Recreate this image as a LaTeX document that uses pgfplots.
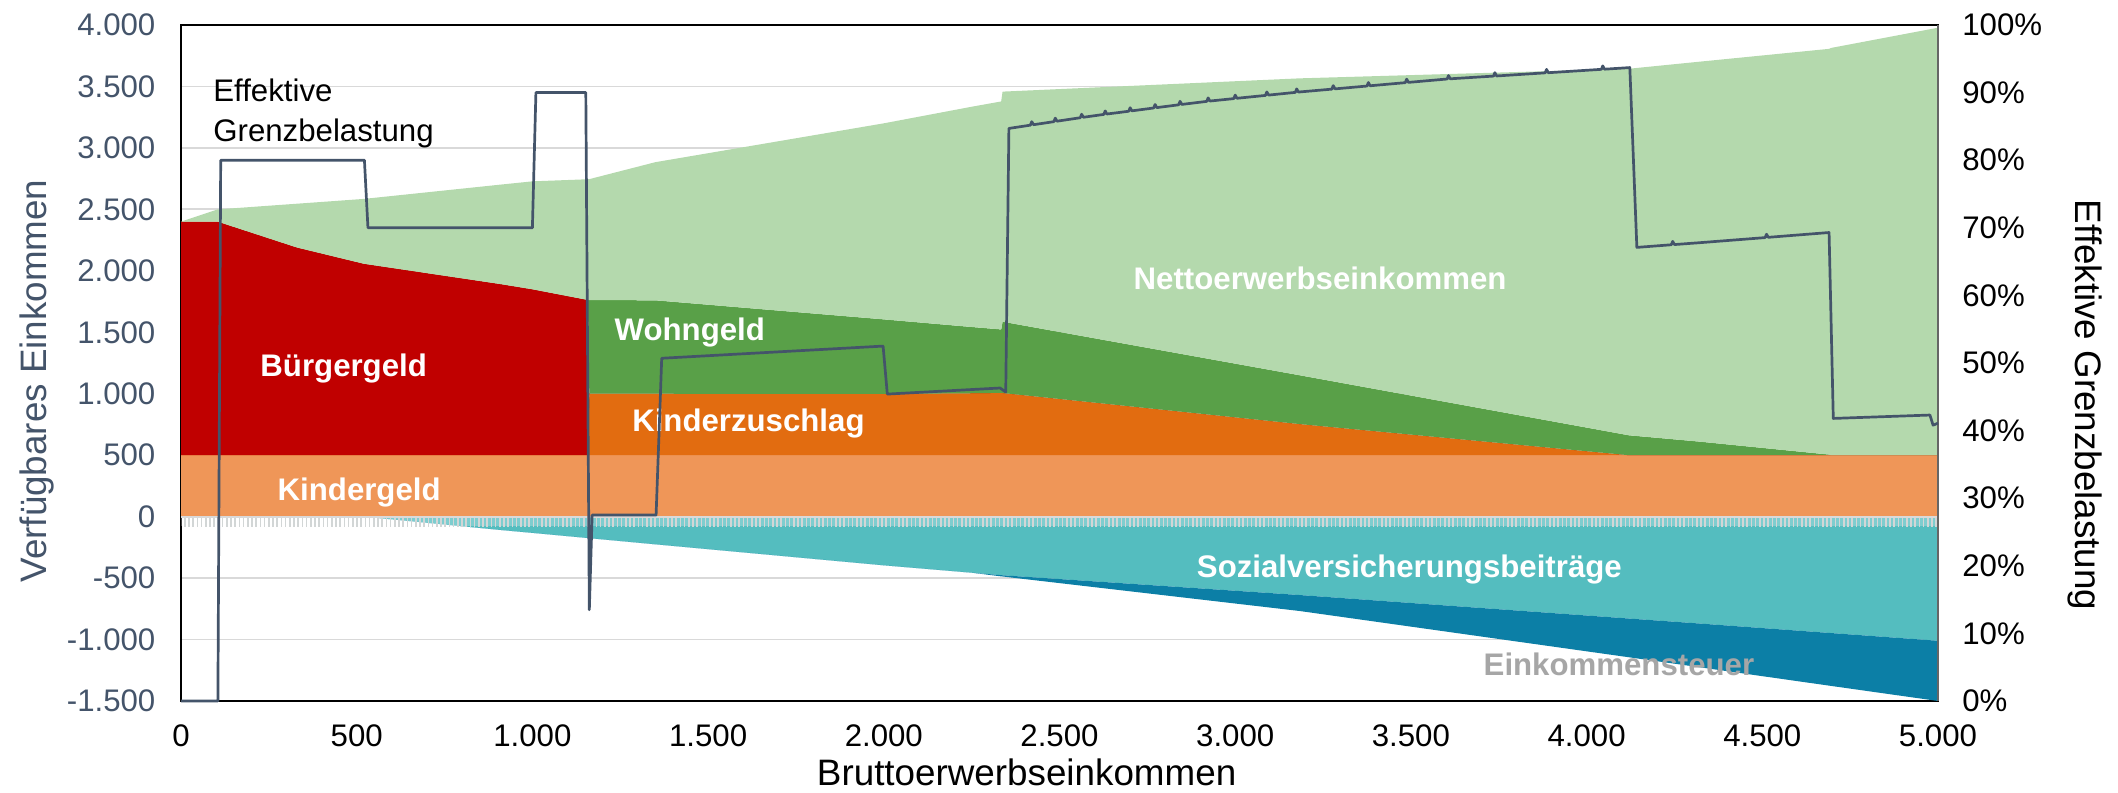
\documentclass[border=0pt]{standalone}
\usepackage{fontspec}
\setmainfont{Liberation Sans}
\usepackage{pgfplots}
\pgfplotsset{compat=1.18}
\usepackage{pgfplotstable}
\usepgfplotslibrary{fillbetween}
\usetikzlibrary{patterns.meta}

\definecolor{kgeld}{HTML}{EF9658}
\definecolor{kizu}{HTML}{E26C10}
\definecolor{buerger}{HTML}{C00000}
\definecolor{wohn}{HTML}{59A048}
\definecolor{netto}{HTML}{B4D9AD}
\definecolor{sv}{HTML}{54BDBF}
\definecolor{est}{HTML}{0C7FA6}
\definecolor{slate}{HTML}{44546A}
\definecolor{gridgray}{HTML}{D9D9D9}
\definecolor{estlab}{HTML}{A6A6A6}
\definecolor{bandgray}{HTML}{D2D6D6}

\newcommand{\smallf}{\fontsize{15.6}{18}\selectfont}
\newcommand{\axlab}{\fontsize{18.4}{22}\selectfont}

% cumulative boundaries of the stacked areas
\pgfplotstableread{
X c1 c2 c3 c4 c5 s1 s2
0 500 500 2400 2400 2400 0 0
105 500 500 2400 2400 2500 0 0
330 500 500 2190 2190 2546 0 0
520 500 500 2058 2058 2585 0 0
908 500 500 1893 1893 2701 -108 -108
1000 500 500 1850 1850 2728 -132 -132
1158 500 500 1763 1763 2745 -174 -174
1162 500 1000 1000 1762 2746 -175 -175
1350 500 1000 1000 1760 2884 -225 -225
2000 500 998 998 1605 3200 -396 -396
2250 500 1004 1004 1543 3335 -456 -456
2334 500 1007 1007 1523 3378 -476 -486
2338 500 1006 1006 1586 3458 -477 -487
3184 500 753 753 1150 3566 -638 -768
4120 500 500 500 662 3644 -829 -1144
4323 500 500 500 610 3702 -870 -1226
4690 500 500 500 505 3806 -946 -1375
4695 500 500 500 500 3813 -947 -1377
5000 500 500 500 500 3978 -1010 -1500
}\areas

% effektive Grenzbelastung in %
\pgfplotstableread{
X P
0 0
105 0
113 80
522 80
532 70
1000 70
1010 90
1152 90
1162 13.5
1170 27.5
1352 27.5
1368 50.7
1998 52.5
2010 45.4
2331 46.3
2347 45.7
2356 84.7
2417 85.18
2421 85.70
2426 85.25
2484 85.70
2488 86.22
2493 85.77
2559 86.28
2563 86.80
2568 86.35
2626 86.77
2630 87.29
2635 86.83
2697 87.24
2701 87.76
2706 87.30
2768 87.72
2772 88.24
2777 87.78
2839 88.19
2843 88.71
2848 88.25
2919 88.70
2923 89.22
2928 88.75
2996 89.11
3000 89.63
3005 89.16
3086 89.58
3090 90.10
3095 89.63
3171 90.03
3175 90.55
3180 90.08
3275 90.51
3279 91.03
3284 90.55
3375 90.97
3379 91.49
3384 91.01
3484 91.47
3488 91.99
3493 91.51
3603 92.01
3607 92.52
3612 92.04
3735 92.44
3739 92.95
3744 92.46
3882 92.92
3886 93.43
3891 92.94
4042 93.44
4046 93.95
4051 93.46
4123 93.7
4143 67.1
4241 67.49
4245 67.99
4250 67.52
4323 67.8
4508 68.55
4512 69.05
4517 68.59
4690 69.3
4702 41.8
4977 42.3
4986 40.8
5000 41.1
}\grenz

\begin{document}
\begin{tikzpicture}
\begin{axis}[
  at={(0,0)}, anchor=south west,
  scale only axis, width=878.5pt, height=338pt,
  xmin=0, xmax=5000, ymin=-1500, ymax=4000,
  xtick={0,500,...,5000},
  xticklabels={0,500,1.000,1.500,2.000,2.500,3.000,3.500,4.000,4.500,5.000},
  ytick={-1500,-1000,...,4000},
  yticklabels={-1.500,-1.000,-500,0,500,1.000,1.500,2.000,2.500,3.000,3.500,4.000},
  /pgf/number format/assume math mode=true,
  major tick length=0pt,
  tick style={draw=none},
  xticklabel style={font=\smallf, text=black, yshift=-8.3pt},
  yticklabel style={font=\smallf, text=slate, xshift=-9.3pt},
  ymajorgrids, grid style={draw=gridgray, line width=0.9pt},
  axis line style={black, line width=0.8pt},
]
\addplot[draw=none, name path=zero] coordinates {(0,0) (5000,0)};
\addplot[draw=none, name path=c1] table[x=X,y=c1]{\areas};
\addplot[draw=none, name path=c2] table[x=X,y=c2]{\areas};
\addplot[draw=none, name path=c3] table[x=X,y=c3]{\areas};
\addplot[draw=none, name path=c4] table[x=X,y=c4]{\areas};
\addplot[draw=none, name path=c5] table[x=X,y=c5]{\areas};
\addplot[draw=none, name path=s1] table[x=X,y=s1]{\areas};
\addplot[draw=none, name path=s2] table[x=X,y=s2]{\areas};

\addplot[fill=kgeld, draw=none] fill between[of=c1 and zero];
\addplot[fill=kizu, draw=none] fill between[of=c2 and c1];
\addplot[fill=buerger, draw=none] fill between[of=c3 and c2];
\addplot[fill=wohn, draw=none] fill between[of=c4 and c3];
\addplot[fill=netto, draw=none] fill between[of=c5 and c4];
\addplot[fill=sv, draw=none] fill between[of=zero and s1];
\addplot[fill=est, draw=none] fill between[of=s1 and s2];

% zero axis with dense tick marks
\fill[white, opacity=0.25] (axis cs:0,0) rectangle (axis cs:5000,-80);
\fill[pattern={Lines[angle=90,distance=2.1pt,line width=0.75pt]}, pattern color=bandgray]
  (axis cs:0,0) rectangle (axis cs:5000,-80);
\draw[gridgray, line width=1pt] (axis cs:0,0) -- (axis cs:5000,0);

\begin{scope}[every node/.style={inner sep=0pt, anchor=base west, font=\smallf\bfseries, text=white}]
\node at (axis cs:225,1138) {Bürgergeld};
\node at (axis cs:274,135) {Kindergeld};
\node at (axis cs:1233,1437) {Wohngeld};
\node at (axis cs:1283,691) {Kinderzuschlag};
\node at (axis cs:2710,1844) {Nettoerwerbseinkommen};
\node at (axis cs:2890,-497) {Sozialversicherungsbeiträge};
\node[text=estlab] at (axis cs:3706,-1289) {Einkommensteuer};
\end{scope}
\node[inner sep=0pt, anchor=base west, font=\smallf, text=black] at (axis cs:91,3376) {Effektive};
\node[inner sep=0pt, anchor=base west, font=\smallf, text=black] at (axis cs:91,3050) {Grenzbelastung};
\end{axis}

\begin{axis}[
  at={(0,0)}, anchor=south west,
  scale only axis, width=878.5pt, height=338pt,
  xmin=0, xmax=5000, ymin=0, ymax=100,
  axis x line=none, axis y line=right,
  axis line style={-, draw=black!60, line width=0.7pt},
  ytick={0,10,...,100},
  yticklabels={0\%,10\%,20\%,30\%,40\%,50\%,60\%,70\%,80\%,90\%,100\%},
  major tick length=0pt,
  tick style={draw=none},
  yticklabel style={font=\smallf, text=black, xshift=8.65pt},
  clip=false,
]
\addplot[color=slate, line width=1.35pt, line join=round, mark=none] table[x=X,y=P]{\grenz};
\node[font=\axlab, rotate=90, text=slate] at (axis description cs:-0.0822,0.4734) {Verfügbares Einkommen};
\node[font=\axlab, rotate=-90, text=black] at (axis description cs:1.0839,0.4376) {Effektive Grenzbelastung};
\node[font=\axlab, anchor=base, inner sep=0pt, text=black] at (axis description cs:0.4813,-0.1257) {Bruttoerwerbseinkommen};
\end{axis}
\pgfresetboundingbox
\path[use as bounding box] (-90.5pt,-45.5pt) rectangle (968.5pt,350.5pt);
\end{tikzpicture}
\end{document}
